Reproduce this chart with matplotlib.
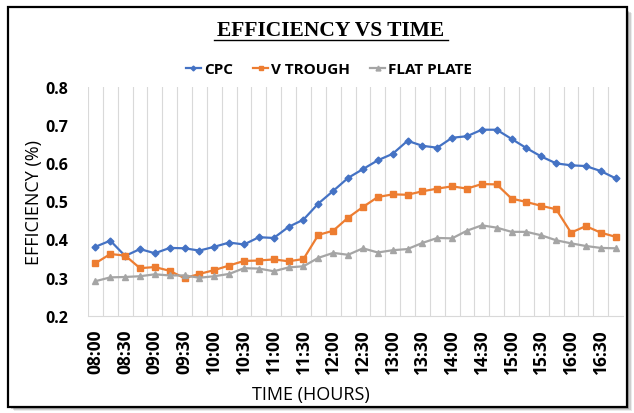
import matplotlib.pyplot as plt
from matplotlib.patches import Rectangle

# time of each reading (every 15 min)
times = ["08:00", "08:15", "08:30", "08:45", "09:00", "09:15", "09:30", "09:45",
         "10:00", "10:15", "10:30", "10:45", "11:00", "11:15", "11:30", "11:45",
         "12:00", "12:15", "12:30", "12:45", "13:00", "13:15", "13:30", "13:45",
         "14:00", "14:15", "14:30", "14:45", "15:00", "15:15", "15:30", "15:45",
         "16:00", "16:15", "16:30", "16:45"]

cpc = [0.381, 0.397, 0.357, 0.375, 0.364, 0.378, 0.377, 0.371, 0.381, 0.392,
       0.387, 0.406, 0.404, 0.433, 0.452, 0.494, 0.527, 0.561, 0.584, 0.607,
       0.624, 0.658, 0.645, 0.640, 0.666, 0.670, 0.687, 0.687, 0.663, 0.639,
       0.617, 0.599, 0.594, 0.592, 0.579, 0.560]

v_trough = [0.338, 0.362, 0.358, 0.325, 0.328, 0.318, 0.299, 0.310, 0.320, 0.332,
            0.344, 0.345, 0.348, 0.343, 0.349, 0.412, 0.423, 0.457, 0.485, 0.511,
            0.518, 0.517, 0.526, 0.533, 0.539, 0.533, 0.545, 0.544, 0.507, 0.498,
            0.488, 0.479, 0.418, 0.435, 0.418, 0.407]

flat_plate = [0.291, 0.301, 0.302, 0.304, 0.309, 0.306, 0.306, 0.300, 0.304, 0.310,
              0.325, 0.324, 0.317, 0.327, 0.330, 0.352, 0.365, 0.360, 0.377, 0.366,
              0.372, 0.375, 0.391, 0.404, 0.403, 0.423, 0.437, 0.431, 0.420, 0.420,
              0.411, 0.398, 0.390, 0.383, 0.378, 0.377]

plt.rcParams['font.family'] = ['Open Sans', 'DejaVu Sans']

fig = plt.figure(figsize=(6.34, 4.14), dpi=100)

# chart frame with a soft shadow
for i, a in enumerate([0.08, 0.12, 0.18]):
    fig.patches.append(Rectangle((14 / 634 - i * 0.002, 2 / 414 + i * 0.002),
                                 618 / 634, 398 / 414, transform=fig.transFigure,
                                 facecolor='black', alpha=a, edgecolor='none', zorder=0))
fig.patches.append(Rectangle((8 / 634, 6 / 414), 619 / 634, 400 / 414,
                             transform=fig.transFigure, facecolor='white',
                             edgecolor='black', linewidth=1.6, zorder=1))

ax = fig.add_axes([88 / 634, 1 - 317 / 414, 535 / 634, 229.5 / 414])
ax.set_zorder(2)
ax.patch.set_alpha(0)

x = list(range(len(times)))
ax.plot(x, cpc, color='#4472C4', lw=1.6, marker='D', ms=3.5, label='CPC')
ax.plot(x, v_trough, color='#ED7D31', lw=1.6, marker='s', ms=5, label='V TROUGH')
ax.plot(x, flat_plate, color='#A5A5A5', lw=1.6, marker='^', ms=5, label='FLAT PLATE')

ax.set_xlim(-0.5, len(times) - 0.5)
ax.set_ylim(0.2, 0.8)
ax.set_yticks([0.2, 0.3, 0.4, 0.5, 0.6, 0.7, 0.8])
ax.set_yticklabels(['0.2', '0.3', '0.4', '0.5', '0.6', '0.7', '0.8'],
                   fontsize=11.5, fontweight='bold')
ax.set_xticks(x[::2])
ax.set_xticklabels(times[::2], rotation=90, fontsize=12.5, fontweight='bold')
ax.set_xticks([i - 0.5 for i in range(len(times) + 1)], minor=True)
ax.tick_params(which='both', length=0)
ax.tick_params(axis='y', pad=14)
ax.tick_params(axis='x', pad=9)
ax.grid(True, which='minor', axis='x', color='#D9D9D9', lw=0.8)
for s in ['top', 'right', 'left']:
    ax.spines[s].set_visible(False)
ax.spines['bottom'].set_color('#D9D9D9')

fig.text(331 / 634, 1 - 31 / 414, 'EFFICIENCY VS TIME', ha='center', va='center',
         fontsize=15.5, fontweight='bold', family='Liberation Serif')
fig.add_artist(plt.Line2D([214 / 634, 448 / 634], [1 - 40.5 / 414, 1 - 40.5 / 414],
                          color='black', lw=1))
fig.text(311 / 634, 1 - 395 / 414, 'TIME (HOURS)', ha='center', va='center', fontsize=13)
fig.text(34 / 634, 1 - 203 / 414, 'EFFICIENCY (%)', ha='center', va='center',
         fontsize=13, rotation=90)

fig.legend(loc='center', bbox_to_anchor=(329 / 634, 1 - 70 / 414), ncol=3,
           frameon=False, prop={'weight': 'bold', 'size': 11},
           handlelength=1.0, handletextpad=0.2, columnspacing=1.3, markerscale=0.7)

fig.savefig('out.png', dpi=100)
